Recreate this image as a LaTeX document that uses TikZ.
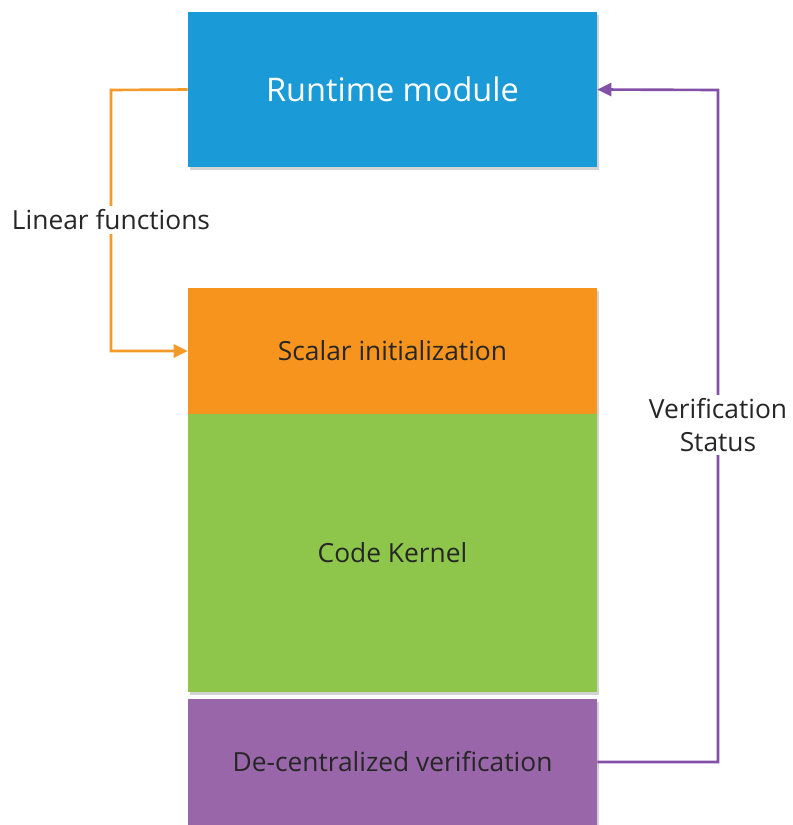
\documentclass[tikz,border=0pt]{standalone}
\usepackage{fontspec}
\setmainfont{Open Sans}
\usetikzlibrary{arrows.meta,shadows}

\definecolor{runblue}{HTML}{1A9AD7}
\definecolor{initorange}{HTML}{F7941E}
\definecolor{kernelgreen}{HTML}{8DC64A}
\definecolor{verpurple}{HTML}{9966AA}
\definecolor{lineorange}{HTML}{F39A2B}
\definecolor{linepurple}{HTML}{8250A6}
\definecolor{textdark}{HTML}{262626}

\tikzset{
  layer/.style={rectangle, minimum width=8.18cm, inner sep=0pt, text=textdark,
    font=\fontsize{15}{18}\selectfont,
    drop shadow={shadow xshift=1.2pt, shadow yshift=-1.5pt, opacity=0.35}},
  flow/.style={line width=1.5pt, -{Triangle[length=8pt,width=7.5pt]}},
  flowlabel/.style={fill=white, inner sep=2pt, text=textdark, align=center,
    font=\fontsize{15}{19}\selectfont}
}

\begin{document}
\begin{tikzpicture}[x=0.02cm, y=-0.02cm]
\useasboundingbox (0,0) rectangle (793,825);

  \node[layer, fill=runblue, minimum height=3.1cm, text=white,
        font=\fontsize{18.5}{22}\selectfont] (runtime) at (392.5,89.5) {Runtime module};
  \node[layer, fill=initorange, minimum height=2.52cm] (scalar) at (392.5,351) {Scalar initialization};
  \node[layer, fill=kernelgreen, minimum height=5.56cm] (kernel) at (392.5,553) {Code Kernel};
  \node[layer, fill=verpurple, minimum height=2.52cm] (verif) at (392.5,762) {De-centralized verification};

  % bends of the two feedback lines
  \coordinate (lbend) at (111,90);
  \coordinate (rbend) at (718,90);

  \draw[flow, draw=lineorange] (runtime.west) -- (lbend) |- (scalar.west);
  \draw[flow, draw=linepurple] (verif.east) -| (rbend) -- (runtime.east);

  \node[flowlabel] (linlabel) at (111,220) {Linear functions};
  \node[flowlabel] (statlabel) at (718,425) {Verification\\Status};
\end{tikzpicture}
\end{document}
